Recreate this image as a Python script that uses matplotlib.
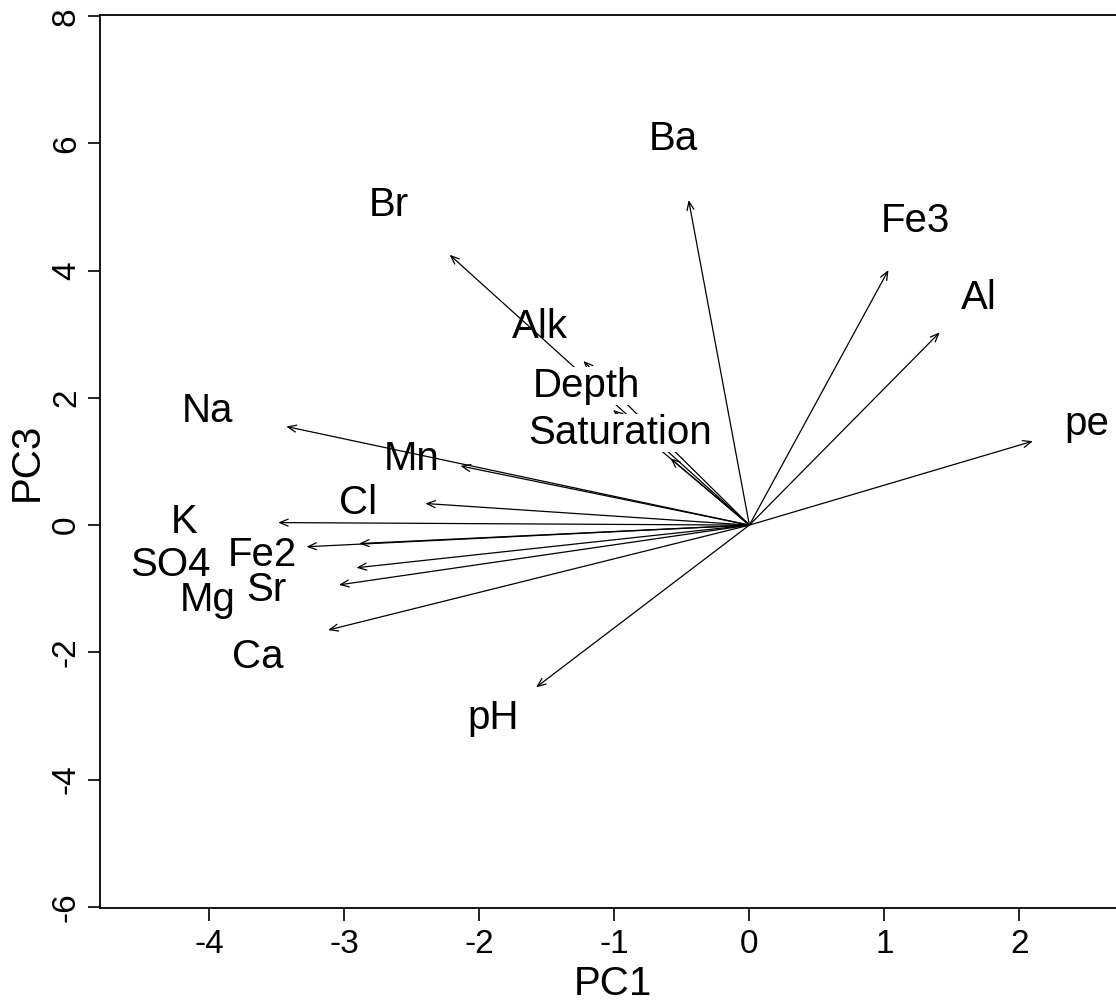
import matplotlib.pyplot as plt
import numpy as np

plt.rcParams['font.family'] = ['Liberation Sans', 'DejaVu Sans']
plt.rcParams['axes.unicode_minus'] = False

# variable names and arrow tips (PC1, PC3)
names = ['Ba', 'Fe3', 'Al', 'pe', 'Br', 'Alk', 'Depth', 'Saturation', 'Na',
         'Mn', 'Cl', 'K', 'SO4', 'Fe2', 'Mg', 'Sr', 'Ca', 'pH']
pc1 = np.array([-0.45, 1.03, 1.41, 2.10, -2.22, -1.23, -1.01, -0.585, -3.43,
                -2.14, -2.40, -3.49, -3.28, -2.89, -2.91, -3.04, -3.12, -1.58])
pc3 = np.array([5.11, 4.01, 3.03, 1.32, 4.25, 2.58, 1.81, 1.05, 1.55,
                0.93, 0.34, 0.04, -0.34, -0.29, -0.67, -0.94, -1.65, -2.55])

# where the names are written
lab_x = [-0.56, 1.23, 1.70, 2.50, -2.67, -1.55, -1.21, -0.96, -4.01,
         -2.50, -2.90, -4.19, -4.29, -3.61, -4.01, -3.58, -3.64, -1.90]
lab_y = [6.07, 4.78, 3.57, 1.59, 5.03, 3.11, 2.19, 1.45, 1.79,
         1.04, 0.35, 0.05, -0.63, -0.47, -1.18, -1.02, -2.08, -3.03]

boxed = ['Depth', 'Saturation']

fig = plt.figure(figsize=(11.16, 10.08), dpi=100)
ax = fig.add_axes([0.0896, 0.0992, 0.92, 0.8859])

for i in range(len(names)):
    ax.annotate('', xy=(pc1[i], pc3[i]), xytext=(0, 0),
                arrowprops=dict(arrowstyle='->,head_length=0.6,head_width=0.25',
                                color='black', lw=0.9, shrinkA=0, shrinkB=0),
                zorder=2)

for i, n in enumerate(names):
    if n in boxed:
        ax.text(lab_x[i], lab_y[i], n, fontsize=29, ha='center', va='center',
                zorder=3, bbox=dict(facecolor='white', edgecolor='none', pad=0))
    else:
        ax.text(lab_x[i], lab_y[i], n, fontsize=29, ha='center', va='center',
                zorder=3)

ax.set_xlim(-4.81, 2.795)
ax.set_ylim(-6.02, 8.02)
ax.set_xticks([-4, -3, -2, -1, 0, 1, 2])
ax.set_yticks([-6, -4, -2, 0, 2, 4, 6, 8])
ax.tick_params(axis='both', labelsize=24, length=9, width=1.2, direction='out')
ax.tick_params(axis='x', pad=6)
ax.tick_params(axis='y', pad=4)
for lab in ax.get_yticklabels():
    lab.set_rotation(90)
    lab.set_va('center')
ax.spines['right'].set_visible(False)
for s in ['left', 'bottom', 'top']:
    ax.spines[s].set_linewidth(1.3)
ax.set_xlabel('PC1', fontsize=29, labelpad=4)
ax.set_ylabel('PC3', fontsize=29, labelpad=4)

fig.savefig('out.png', dpi=100)
